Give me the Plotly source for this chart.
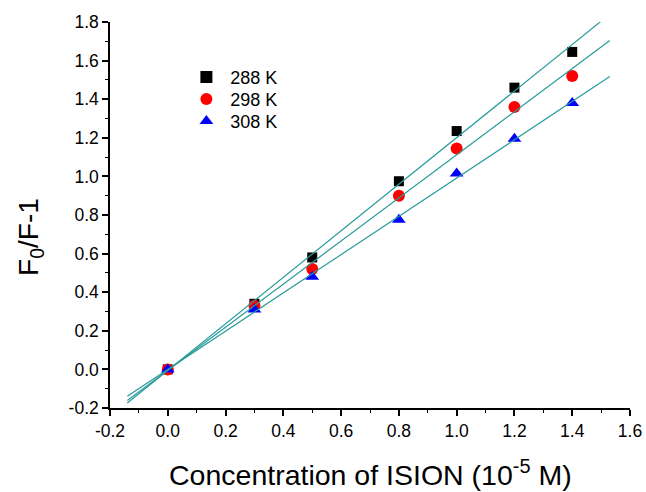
import numpy as np
import plotly.graph_objects as go

# Quencher concentration (10^-5 M)
conc = [0.0, 0.3, 0.5, 0.8, 1.0, 1.2, 1.4]

# Stern-Volmer ratio F0/F - 1 at each temperature
f_288 = [0.0, 0.34, 0.58, 0.975, 1.235, 1.46, 1.645]
f_298 = [0.0, 0.33, 0.52, 0.90, 1.145, 1.36, 1.52]
f_308 = [0.0, 0.31, 0.48, 0.775, 1.015, 1.195, 1.38]

labels = ["288 K", "298 K", "308 K"]
fit_range = [-0.14, 1.53]

x_ticks = [-0.2, 0.0, 0.2, 0.4, 0.6, 0.8, 1.0, 1.2, 1.4, 1.6]
x_ticktext = ["-0.2", "0.0", "0.2", "0.4", "0.6", "0.8", "1.0", "1.2", "1.4", "1.6"]
y_ticks = [-0.2, 0.0, 0.2, 0.4, 0.6, 0.8, 1.0, 1.2, 1.4, 1.6, 1.8]
y_ticktext = ["-0.2", "0.0", "0.2", "0.4", "0.6", "0.8", "1.0", "1.2", "1.4", "1.6", "1.8"]

x_title = "Concentration of ISION (10<sup>-5</sup> M)"
y_title = "F<sub>0</sub>/F-1"

# one small legend box per series, stacked tightly
series = [
    (labels[0], f_288, "square", "black", 10, "legend", 0.857),
    (labels[1], f_298, "circle", "red", 12, "legend2", 0.800),
    (labels[2], f_308, "triangle-up", "blue", 12, "legend3", 0.743),
]

fig = go.Figure()

for name, ys, sym, col, sz, leg, ly in series:
    fig.add_trace(go.Scatter(
        x=conc, y=ys, mode="markers", name=name, legend=leg,
        marker=dict(symbol=sym, color=col, size=sz, line=dict(width=0)),
    ))

# Linear least-squares fits
for name, ys, sym, col, sz, leg, ly in series:
    k, b = np.polyfit(conc, ys, 1)
    xs = np.array(fit_range)
    fig.add_trace(go.Scatter(
        x=xs, y=k * xs + b, mode="lines", showlegend=False,
        line=dict(color="#2a9a9a", width=1.2), hoverinfo="skip",
    ))

axis_common = dict(
    showline=True, linecolor="black", linewidth=1.5,
    ticks="outside", ticklen=6, tickwidth=1.5, tickcolor="black",
    showgrid=False, zeroline=False, mirror=False, automargin=False,
    tickfont=dict(family="Liberation Sans, Arial", size=17.5, color="black"),
    ticklabeloverflow="allow",
    minor=dict(ticks="outside", ticklen=3, tickwidth=1.2, tickcolor="black",
               dtick=0.1),
)

legend_style = dict(
    x=0.1396, xanchor="left", yanchor="middle",
    bgcolor="rgba(0,0,0,0)", font=dict(size=18),
    itemsizing="constant", itemwidth=37.6,
)

layout = dict(
    width=646, height=492,
    margin=dict(l=110, r=16, t=22, b=84),
    paper_bgcolor="white", plot_bgcolor="white",
    font=dict(family="Liberation Sans, Arial", color="black"),
    showlegend=True,
    xaxis=dict(range=[-0.2, 1.6], tickvals=x_ticks, ticktext=x_ticktext,
               **axis_common),
    yaxis=dict(range=[-0.2, 1.8], tickvals=y_ticks, ticktext=y_ticktext,
               **axis_common),
    annotations=[
        dict(text=y_title, textangle=-90, showarrow=False,
             xref="paper", yref="paper", x=-0.154, y=0.443,
             xanchor="center", yanchor="middle", font=dict(size=28)),
        dict(text=x_title, showarrow=False,
             xref="paper", yref="paper", x=0.5, y=-0.168,
             xanchor="center", yanchor="middle", font=dict(size=28.5)),
    ],
)
for name, ys, sym, col, sz, leg, ly in series:
    layout[leg] = dict(y=ly, **legend_style)

fig.update_layout(**layout)
fig.write_html("out.html")
